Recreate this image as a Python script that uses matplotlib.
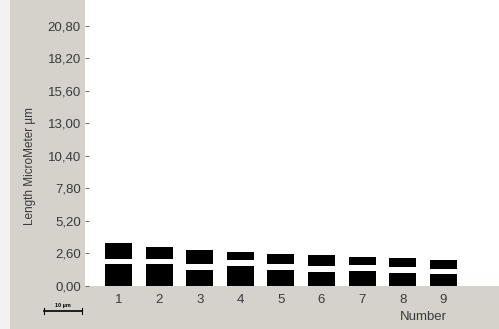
import matplotlib.pyplot as plt
from matplotlib.patches import Rectangle
from matplotlib.ticker import FuncFormatter

numbers = [1, 2, 3, 4, 5, 6, 7, 8, 9]
lower = [1.71, 1.71, 1.25, 1.59, 1.25, 1.12, 1.20, 1.01, 0.91]
gap_top = [2.10, 2.15, 1.75, 2.02, 1.75, 1.55, 1.63, 1.47, 1.35]
total = [3.43, 3.08, 2.82, 2.66, 2.55, 2.47, 2.31, 2.21, 2.05]
yticks = [0, 2.6, 5.2, 7.8, 10.4, 13.0, 15.6, 18.2, 20.8]

plt.rcParams['font.family'] = ['Liberation Sans', 'DejaVu Sans']
grey = '#d5d2cb'
txt = '#3a3a3a'

fig = plt.figure(figsize=(4.99, 3.29), dpi=100, facecolor=grey)
fig.patches.append(Rectangle((0, 0), 10 / 499, 1, transform=fig.transFigure,
                             facecolor='#f2f2f0', edgecolor='none'))
ax = fig.add_axes([85 / 499, 1 - 285.7 / 329, 1 - 85 / 499, 285.7 / 329])
ax.set_facecolor('white')

gap = [g - l for g, l in zip(gap_top, lower)]
upper = [t - g for t, g in zip(total, gap_top)]
w = 0.665
ax.bar(numbers, lower, width=w, color='black')
ax.bar(numbers, gap, width=w, bottom=lower, color='white')
ax.bar(numbers, upper, width=w, bottom=gap_top, color='black')

ax.set_xlim(0.175, 10.37)
ax.set_ylim(0, 22.87)
ax.set_yticks(yticks)
ax.yaxis.set_major_formatter(FuncFormatter(lambda v, p: f'{v:.2f}'.replace('.', ',')))
ax.set_xticks(numbers)
for s in ax.spines.values():
    s.set_visible(False)
ax.tick_params(axis='y', direction='in', length=3, color='#777777', pad=3,
               labelsize=9.5, labelcolor=txt)
ax.tick_params(axis='x', length=0, pad=6, labelsize=9.5, labelcolor=txt)

fig.text(30 / 499, 1 - 166 / 329, 'Length MicroMeter µm', rotation=90,
         ha='center', va='center', fontsize=8.5, color=txt)
fig.text(423 / 499, 1 - 317 / 329, 'Number', ha='center', va='center',
         fontsize=9.5, color=txt)

# scale bar
y0 = 1 - 311 / 329
fig.add_artist(plt.Line2D([44 / 499, 82 / 499], [y0, y0], color='black', lw=1.2))
for xx in (44, 82):
    fig.add_artist(plt.Line2D([xx / 499, xx / 499], [y0 - 0.008, y0 + 0.008],
                              color='black', lw=0.8))
fig.text(63 / 499, 1 - 306 / 329, '10 µm', ha='center', va='center',
         fontsize=4, color='black', fontweight='bold')

fig.savefig('out.png', dpi=100, facecolor=grey)
